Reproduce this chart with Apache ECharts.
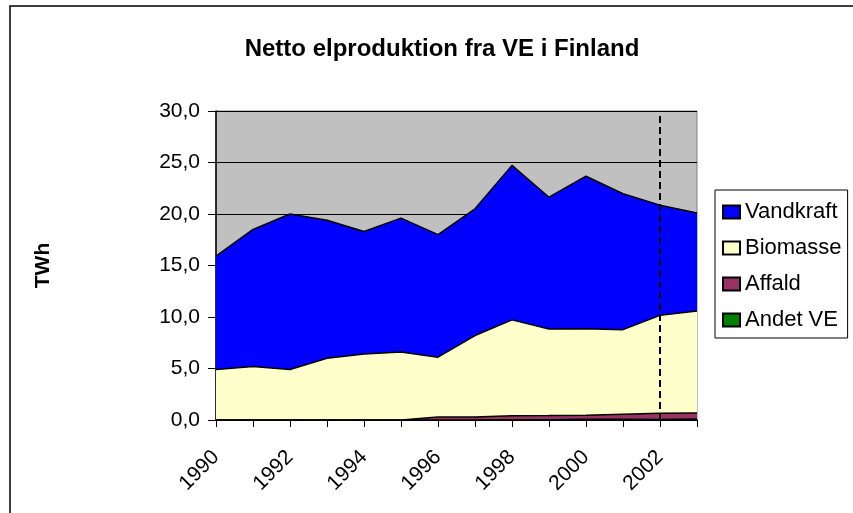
<!DOCTYPE html>
<html>
<head>
<meta charset="utf-8">
<script src="https://cdn.jsdelivr.net/npm/echarts@6/dist/echarts.min.js"></script>
<style>
  html, body { margin: 0; padding: 0; background: #fff; }
  #chart { width: 853px; height: 513px; }
</style>
</head>
<body>
<div id="chart"></div>
<script>
var years = ['1990', '1991', '1992', '1993', '1994', '1995', '1996',
             '1997', '1998', '1999', '2000', '2001', '2002', '2003'];
var vandkraft = [11.0, 13.3, 15.1, 13.4, 11.9, 13.0, 11.9, 12.3, 15.0, 12.8, 14.8, 13.2, 10.7, 9.5];
var biomasse  = [4.9, 5.2, 4.9, 6.0, 6.4, 6.6, 5.8, 7.9, 9.3, 8.4, 8.4, 8.2, 9.5, 9.9];
var affald    = [0, 0, 0, 0, 0, 0, 0.3, 0.3, 0.4, 0.4, 0.4, 0.5, 0.6, 0.6];
var andetVE   = [0, 0, 0, 0, 0, 0, 0, 0, 0.02, 0.03, 0.07, 0.07, 0.06, 0.09];
var markYear = '2002';

var font = 'Liberation Sans, Arial, sans-serif';

function area(name, data, color) {
    return {
        name: name,
        type: 'line',
        stack: 'total',
        data: data,
        symbol: 'none',
        lineStyle: { color: '#000', width: 1.5 },
        areaStyle: { color: color, opacity: 1 },
        itemStyle: { color: color, borderColor: '#000', borderWidth: 1 }
    };
}

var series = [
    area('Andet VE', andetVE, '#008000'),
    area('Affald', affald, '#993366'),
    area('Biomasse', biomasse, '#FFFFCC'),
    area('Vandkraft', vandkraft, '#0000FF')
];
// stiplet linje ved 2002
series[3].markLine = {
    silent: true,
    symbol: 'none',
    label: { show: false },
    lineStyle: { color: '#000', type: [7, 4], width: 2 },
    data: [{ xAxis: markYear }]
};

var chart = echarts.init(document.getElementById('chart'));
chart.setOption({
    animation: false,
    textStyle: { fontFamily: font },
    title: {
        text: 'Netto elproduktion fra VE i Finland',
        left: 437, textAlign: 'center', top: 32,
        textStyle: { fontSize: 24, fontWeight: 'bold', color: '#000', fontFamily: font }
    },
    graphic: [{
        type: 'rect',
        shape: { x: 10, y: 6, width: 900, height: 600 },
        style: { fill: 'none', stroke: '#000', lineWidth: 1.5 },
        z: -1
    }],
    legend: {
        orient: 'vertical',
        left: 715, top: 190,
        data: ['Vandkraft', 'Biomasse', 'Affald', 'Andet VE'],
        icon: 'rect',
        itemWidth: 17, itemHeight: 13, itemGap: 14,
        padding: [11, 6, 7, 7],
        borderColor: '#000', borderWidth: 1,
        textStyle: { fontSize: 22, color: '#000', fontFamily: font }
    },
    grid: {
        left: 216, right: 156, top: 111, bottom: 93,
        show: true, backgroundColor: '#C0C0C0',
        borderColor: '#808080', borderWidth: 1
    },
    xAxis: {
        type: 'category',
        data: years,
        boundaryGap: false,
        axisLine: { lineStyle: { color: '#000', width: 1.5 } },
        axisTick: { show: true, interval: 0, length: 7, lineStyle: { color: '#000' } },
        axisLabel: { interval: 1, rotate: 45, fontSize: 21, color: '#000', margin: 34 }
    },
    yAxis: {
        type: 'value',
        min: 0, max: 30, interval: 5,
        name: 'TWh',
        nameLocation: 'middle',
        nameRotate: 90,
        nameGap: 162,
        nameTextStyle: { fontSize: 21, fontWeight: 'bold', color: '#000' },
        axisLine: { show: true, lineStyle: { color: '#000', width: 1.5 } },
        axisTick: { show: true, length: 8, lineStyle: { color: '#000' } },
        splitLine: { lineStyle: { color: '#000', width: 1 } },
        axisLabel: {
            fontSize: 21, color: '#000', margin: 16,
            formatter: function (v) { return v.toFixed(1).replace('.', ','); }
        }
    },
    series: series
});
</script>
</body>
</html>
